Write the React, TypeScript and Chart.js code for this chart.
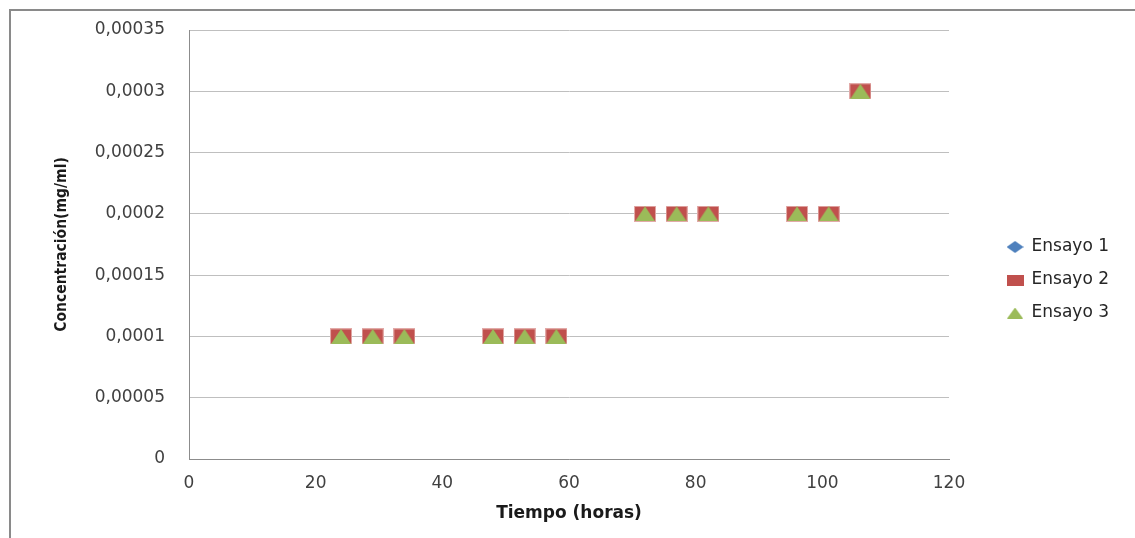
import React, { useEffect, useRef } from 'react';
import { Chart, registerables } from 'chart.js';

Chart.register(...registerables);

// ---- Data ----
const hours = [24, 29, 34, 48, 53, 58, 72, 77, 82, 96, 101, 106];
const ensayo1 = [0.0001, 0.0001, 0.0001, 0.0001, 0.0001, 0.0001, 0.0002, 0.0002, 0.0002, 0.0002, 0.0002, 0.0003];
const ensayo2 = [0.0001, 0.0001, 0.0001, 0.0001, 0.0001, 0.0001, 0.0002, 0.0002, 0.0002, 0.0002, 0.0002, 0.0003];
const ensayo3 = [0.0001, 0.0001, 0.0001, 0.0001, 0.0001, 0.0001, 0.0002, 0.0002, 0.0002, 0.0002, 0.0002, 0.0003];
const seriesNames = ['Ensayo 1', 'Ensayo 2', 'Ensayo 3'];
const xTickValues = [0, 20, 40, 60, 80, 100, 120];
const xTickLabels = ['0', '20', '40', '60', '80', '100', '120'];
const yTickValues = [0, 0.00005, 0.0001, 0.00015, 0.0002, 0.00025, 0.0003, 0.00035];
const yTickLabels = ['0', '0,00005', '0,0001', '0,00015', '0,0002', '0,00025', '0,0003', '0,00035'];
const xTitle = 'Tiempo (horas)';
const yTitle = 'Concentración(mg/ml)';

const BLUE = '#4F81BD';
const RED = '#C0504D';
const GREEN = '#9BBB59';

function makeMarker(kind: string, w: number, h: number, fill: string, stroke?: string) {
  const c = document.createElement('canvas');
  c.width = w;
  c.height = h;
  const g = c.getContext('2d')!;
  g.fillStyle = fill;
  g.beginPath();
  if (kind === 'rect') {
    g.rect(0, 0, w, h);
  } else if (kind === 'diamond') {
    g.moveTo(w / 2, 0);
    g.lineTo(w, h / 2);
    g.lineTo(w / 2, h);
    g.lineTo(0, h / 2);
    g.closePath();
  } else {
    g.moveTo(w / 2, 0);
    g.lineTo(w, h);
    g.lineTo(0, h);
    g.closePath();
  }
  g.fill();
  if (stroke) {
    g.strokeStyle = stroke;
    g.lineWidth = 1;
    if (kind === 'rect') g.strokeRect(0.5, 0.5, w - 1, h - 1);
  }
  return c;
}

const toPoints = (ys: number[]) => hours.map((x, i) => ({ x, y: ys[i] }));

export default function App() {
  const ref = useRef<HTMLCanvasElement>(null);

  useEffect(() => {
    if (!ref.current) return;
    const dataMarkers = [
      makeMarker('diamond', 16, 12, BLUE),
      makeMarker('rect', 22, 16, RED, '#E2AAA8'),
      makeMarker('triangle', 20, 15, GREEN),
    ];
    const legendMarkers = [
      makeMarker('diamond', 17, 12, BLUE),
      makeMarker('rect', 17, 11, RED),
      makeMarker('triangle', 16, 11, GREEN),
    ];
    const tickFont = { family: '"DejaVu Sans", Verdana, sans-serif', size: 17 };
    const seriesData = [ensayo1, ensayo2, ensayo3];

    const chart = new Chart(ref.current, {
      type: 'scatter',
      data: {
        datasets: seriesNames.map((name, i) => ({
          label: name,
          data: toPoints(seriesData[i]),
          pointStyle: dataMarkers[i] as any,
          pointRadius: 9,
          pointHoverRadius: 9,
          backgroundColor: [BLUE, RED, GREEN][i],
          borderColor: [BLUE, RED, GREEN][i],
          showLine: false,
          order: 3 - i,
        })),
      },
      options: {
        animation: false,
        responsive: false,
        maintainAspectRatio: false,
        layout: { padding: { top: 30, left: 0, right: 16, bottom: 8 } },
        plugins: {
          tooltip: { enabled: false },
          legend: {
            position: 'right',
            align: 'center',
            labels: {
              usePointStyle: true,
              pointStyleWidth: 16,
              padding: 16,
              color: '#262626',
              font: tickFont,
              generateLabels: (c: any) => {
                const items = (Chart.defaults.plugins.legend.labels as any).generateLabels(c);
                return items
                  .sort((a: any, b: any) => a.datasetIndex - b.datasetIndex)
                  .map((it: any) => ({ ...it, pointStyle: legendMarkers[it.datasetIndex] }));
              },
            },
          },
        },
        scales: {
          x: {
            type: 'linear',
            position: 'bottom',
            min: 0,
            max: 120,
            afterBuildTicks: (s: any) => {
              s.ticks = xTickValues.map((v) => ({ value: v }));
            },
            afterFit: (s: any) => {
              s.height = 71;
            },
            grid: { display: false, drawTicks: false },
            border: { display: true, color: '#8C8C8C', width: 1 },
            ticks: {
              font: tickFont,
              color: '#404040',
              padding: 14,
              maxRotation: 0,
              callback: (_v: any, i: number) => xTickLabels[i],
            },
            title: {
              display: true,
              text: xTitle,
              color: '#1a1a1a',
              font: { family: '"DejaVu Sans", Verdana, sans-serif', size: 17, weight: 'bold' },
              padding: { top: 0, bottom: 6 },
            },
          },
          y: {
            type: 'linear',
            position: 'left',
            min: 0,
            max: 0.00035,
            afterBuildTicks: (s: any) => {
              s.ticks = yTickValues.map((v) => ({ value: v }));
            },
            afterFit: (s: any) => {
              s.width = 189;
            },
            grid: {
              color: '#BFBFBF',
              lineWidth: 1,
              drawTicks: true,
              tickLength: 24,
              tickColor: 'rgba(0,0,0,0)',
            },
            border: { display: true, color: '#8C8C8C', width: 1 },
            ticks: {
              font: tickFont,
              color: '#404040',
              padding: 0,
              callback: (_v: any, i: number) => yTickLabels[i],
            },
            title: {
              display: true,
              text: yTitle,
              color: '#1a1a1a',
              font: { family: '"Liberation Sans Narrow", "DejaVu Sans Condensed", "Roboto Condensed", sans-serif', size: 15.5, weight: 'bold' },
              padding: { top: 53, bottom: 0 },
            },
          },
          yR: {
            type: 'linear',
            position: 'right',
            display: true,
            grid: { display: false, drawTicks: false },
            border: { display: false },
            ticks: { display: false },
            afterFit: (s: any) => {
              s.width = 42;
            },
          },
        },
      } as any,
    });
    return () => chart.destroy();
  }, []);

  return (
    <div>
      <div
        style={{
          position: 'fixed',
          left: 9,
          top: 9,
          width: 2000,
          height: 2000,
          borderLeft: '2px solid #8A8A8A',
          borderTop: '2px solid #8A8A8A',
        }}
      />
      <canvas
        ref={ref}
        width={1135}
        height={538}
        style={{ position: 'fixed', left: 0, top: 0, width: 1135, height: 538 }}
      />
    </div>
  );
}
